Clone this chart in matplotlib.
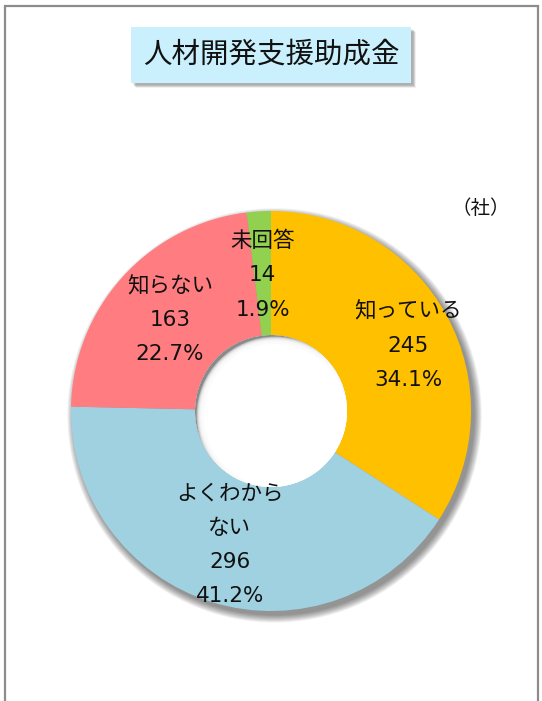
import numpy as np
import matplotlib.pyplot as plt
from matplotlib.patches import Circle, Rectangle

# DejaVu for digits (Verdana-like, as in the original), CJK falls back to Noto
plt.rcParams['font.family'] = ['DejaVu Sans', 'Noto Sans CJK JP']

title = "人材開発支援助成金"
unit = "（社）"
labels = ["知っている", "よくわから\nない", "知らない", "未回答"]
counts = [245, 296, 163, 14]
percents = [34.1, 41.2, 22.7, 1.9]
colors = ["#FFC000", "#9FD1E0", "#FF7C80", "#92D050"]

W, H = 542, 701
fig = plt.figure(figsize=(W / 100, H / 100), dpi=100)

# outer frame of the chart area
frame = Rectangle((5 / W, -0.05), 533 / W, 1.05 - 6 / H, transform=fig.transFigure,
                  fill=False, edgecolor="#8c8c8c", linewidth=1.6)
fig.patches.append(frame)

# title box with shadow
bx0, by0, bw, bh = 131 / W, 1 - 83 / H, 280 / W, 56 / H
for k in range(6):
    sh = Rectangle((bx0 + (2 + k * 0.6) / W, by0 - (2 + k * 0.6) / H), bw, bh,
                   transform=fig.transFigure, facecolor="#000000", alpha=0.06,
                   edgecolor="none")
    fig.patches.append(sh)
box = Rectangle((bx0, by0), bw, bh, transform=fig.transFigure,
                facecolor="#C9F0FC", edgecolor="none")
fig.patches.append(box)
fig.text(bx0 + bw / 2, by0 + bh / 2, title, ha="center", va="center",
         fontsize=20.5, color="#111111")

fig.text(481 / W, 1 - 208 / H, unit, ha="center", va="center", fontsize=14,
         color="#111111")

# donut axes: centre at (271, 411) px, outer radius 200 px
R = 200
ax = fig.add_axes([(271 - 1.1 * R) / W, (H - 411 - 1.1 * R) / H, 2.2 * R / W, 2.2 * R / H])

hole = 0.38

# soft outer shadow
for k in range(10):
    ax.add_patch(Circle((0.018, -0.022), 1.0 + k * 0.004, facecolor="#000000",
                        alpha=0.05, edgecolor="none", zorder=0))
ax.add_patch(Circle((0, 0), hole, facecolor="white", edgecolor="none", zorder=0.5))

wedges, _ = ax.pie(counts, colors=colors, startangle=90, counterclock=False,
                   radius=1.0, wedgeprops=dict(width=1 - hole, edgecolor="none"))
for w in wedges:
    w.set_zorder(1)

ax.set_xlim(-1.1, 1.1)
ax.set_ylim(-1.1, 1.1)
ax.set_aspect("equal")
ax.axis("off")

# inner shadow in the hole
clip = Circle((0, 0), hole, transform=ax.transData)
g = Circle((0, 0), hole, facecolor="#8a8a8a", edgecolor="none", zorder=2)
ax.add_patch(g)
g.set_clip_path(clip)
for k in range(8):
    c = Circle((0.022, -0.022), hole - 0.014 + k * 0.004, facecolor="white",
               edgecolor="none", alpha=0.4, zorder=2.1)
    ax.add_patch(c)
    c.set_clip_path(clip)
c = Circle((0.022, -0.022), hole - 0.022, facecolor="white", edgecolor="none", zorder=2.2)
ax.add_patch(c)
c.set_clip_path(clip)

label_r = [0.76, 0.70, 0.68, 0.68]
label_shift = [-3.0, 0.0, 0.0, 0.0]
for w, name, n, p, r, s in zip(wedges, labels, counts, percents, label_r, label_shift):
    ang = np.deg2rad((w.theta1 + w.theta2) / 2 + s)
    ax.text(r * np.cos(ang), r * np.sin(ang), f"{name}\n{n}\n{p:.1f}%",
            ha="center", va="center", fontsize=15.5, linespacing=1.88,
            color="#111111", zorder=3)

fig.savefig("out.png", dpi=100)
